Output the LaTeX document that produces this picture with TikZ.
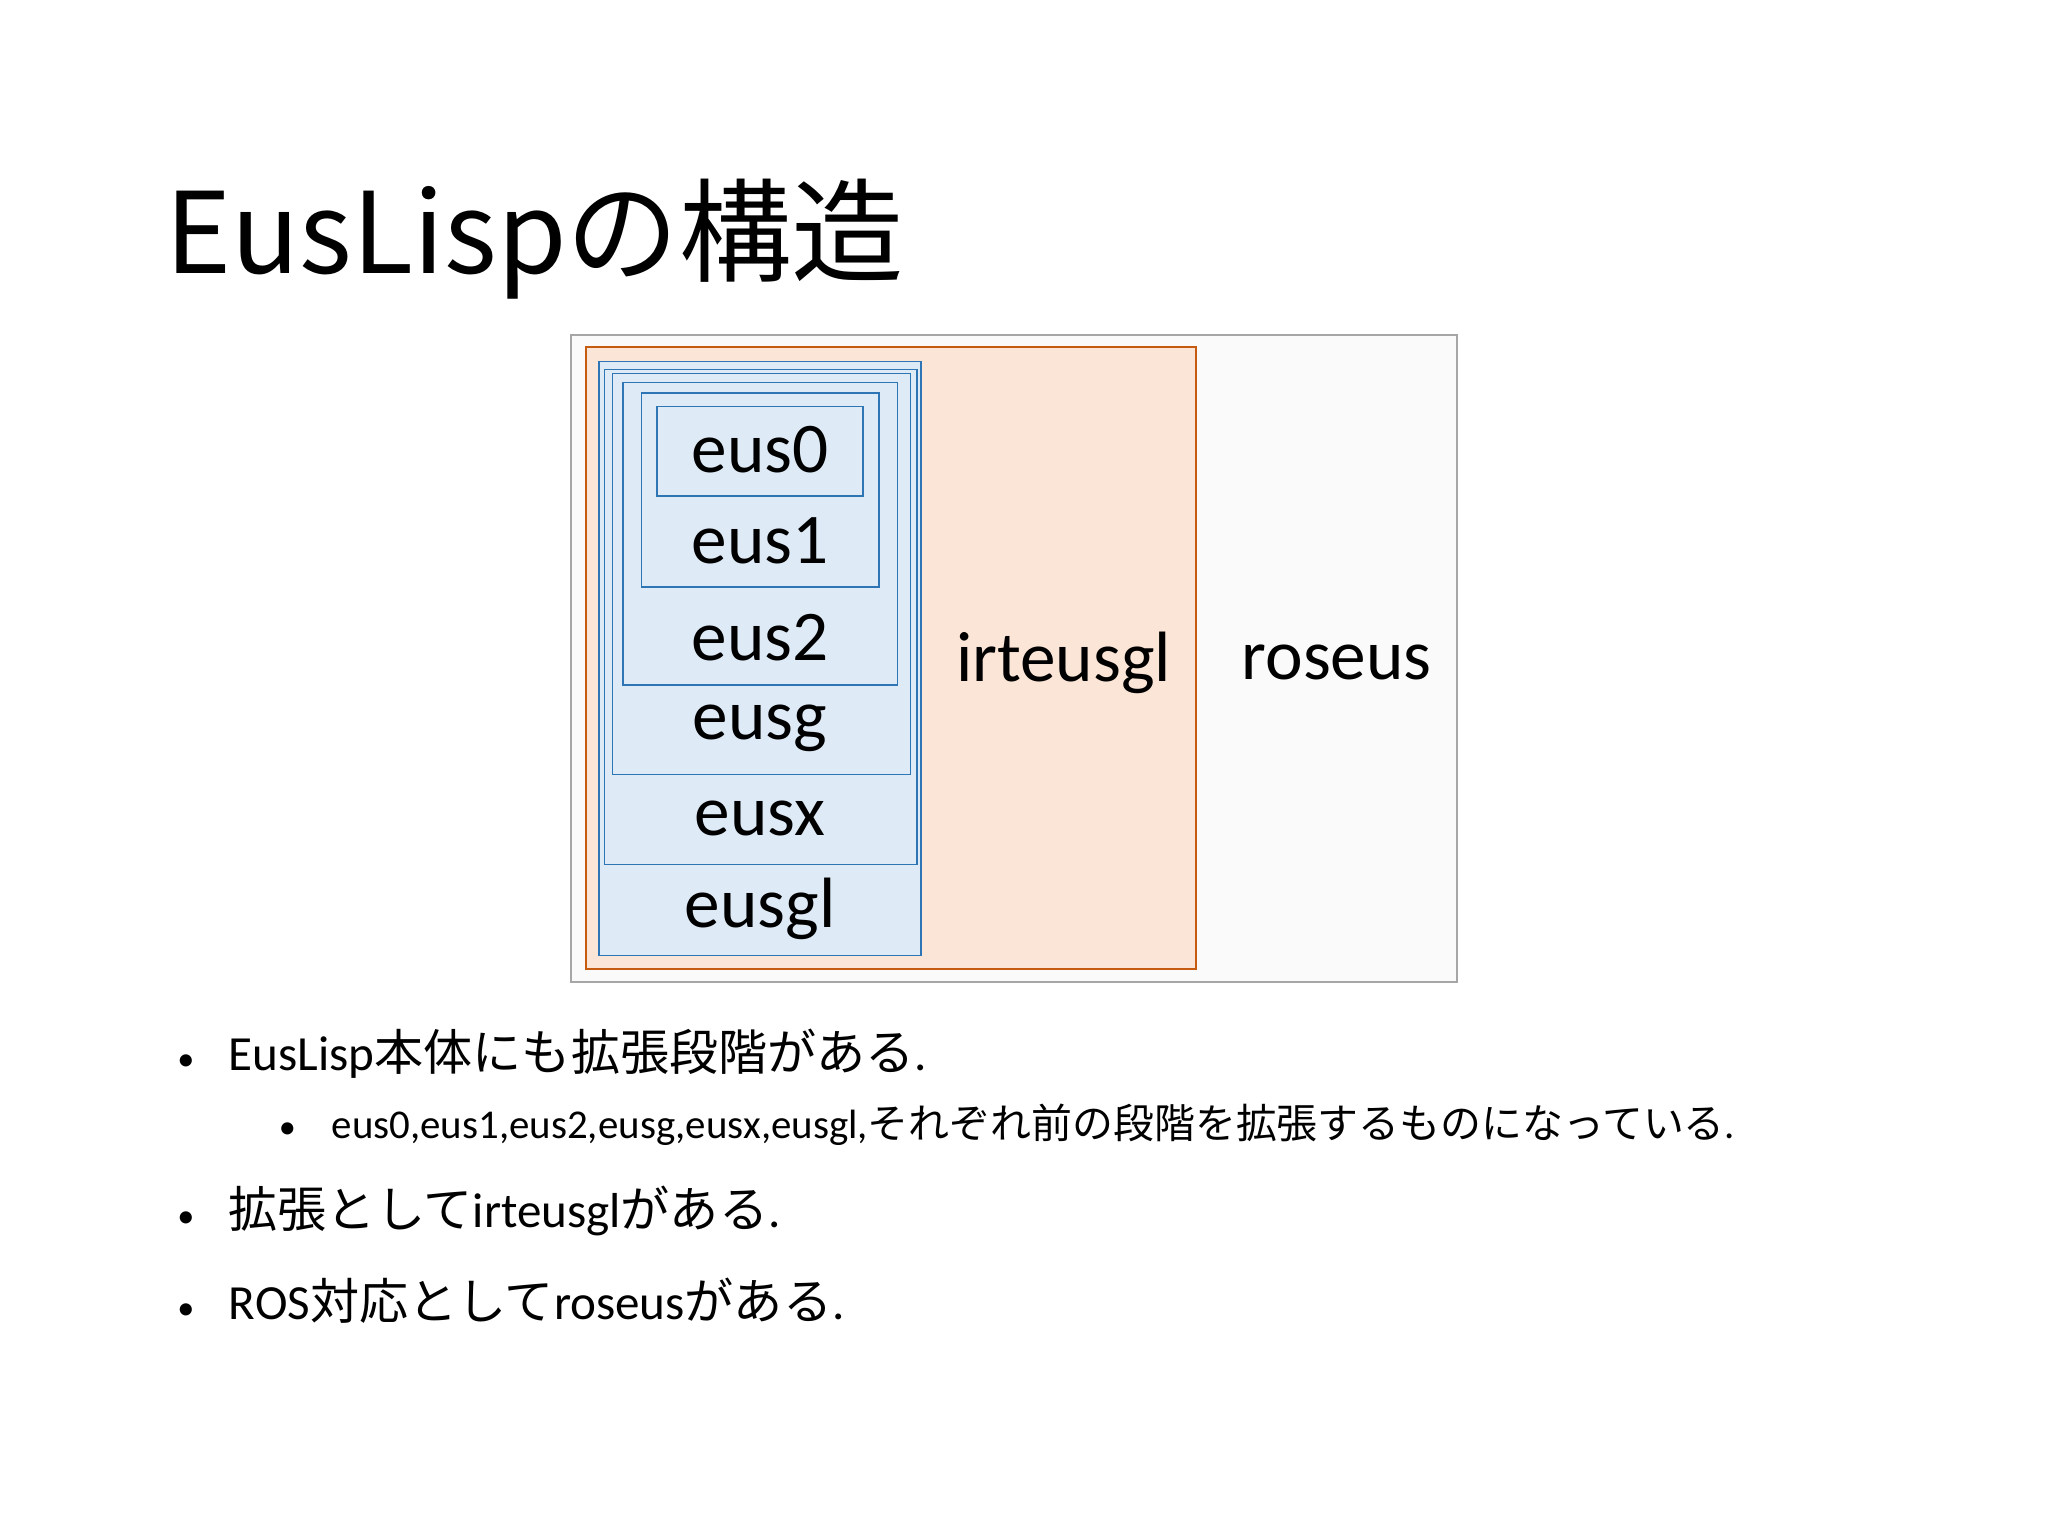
\documentclass[tikz,border=0pt]{standalone}
\usepackage{fontspec}
\setmainfont{Carlito}
\newfontfamily\cjk{Noto Sans CJK JP}
\definecolor{bluefill}{HTML}{DEEBF7}
\definecolor{bluel}{HTML}{2E75B6}
\definecolor{orfill}{HTML}{FBE5D6}
\definecolor{orl}{HTML}{C55A11}
\begin{document}
\begin{tikzpicture}[x=0.5pt,y=-0.5pt,
  lbl/.style={font=\fontsize{27}{30}\selectfont},
  bx/.style={draw=bluel,line width=0.6pt},
  dot/.style={anchor=base west,font=\fontsize{13}{16}\selectfont,inner sep=0},
  bul/.style={anchor=base west,font=\fontsize{18.6}{20}\selectfont,inner sep=0},
  sbul/.style={anchor=base west,font=\fontsize{15.5}{16}\selectfont,inner sep=0}]
\useasboundingbox[fill=white] (0,0) rectangle (1552,1164);
\node[anchor=base west,inner sep=0,font=\cjk\fontsize{42.6}{48}\selectfont] (title) at (125,207) {EusLispの構造};
\draw[draw=gray!70,fill=black!2,line width=0.7pt] (433,254) rectangle (1104,744);
\draw[draw=orl,fill=orfill,line width=0.8pt] (444,263) rectangle (906,734);
\draw[bx,fill=bluefill] (454,274) rectangle (698,724);
\draw[bx] (458,280) rectangle (695,655);
\draw[bx] (464,283) rectangle (690,587);
\draw[bx] (472,290) rectangle (680,519);
\draw[bx] (486,298) rectangle (666,445);
\draw[bx] (498,308) rectangle (654,376);
\node[lbl] (e0) at (576,341) {eus0};
\node[lbl] (e1) at (576,410) {eus1};
\node[lbl] (e2) at (576,483) {eus2};
\node[lbl] (eg) at (576,552) {eusg};
\node[lbl] (ex) at (576,620) {eusx};
\node[lbl] (egl) at (576,689) {eusgl};
\node[lbl] (irt) at (806,502) {irteusgl};
\node[lbl] (ros) at (1013,502) {roseus};
\node[dot] (b1d) at (134,811) {•};
\node[bul] (b1) at (173,811) {EusLisp{\cjk 本体にも拡張段階がある}.};
\node[dot] (b2d) at (211,863) {•};
\node[sbul] (b2) at (251,863) {eus0,eus1,eus2,eusg,eusx,eusgl,{\cjk それぞれ前の段階を拡張するものになっている}.};
\node[dot] (b3d) at (134,930) {•};
\node[bul] (b3) at (173,930) {{\cjk 拡張として}irteusgl{\cjk がある}.};
\node[dot] (b4d) at (134,1000) {•};
\node[bul] (b4) at (173,1000) {ROS{\cjk 対応として}roseus{\cjk がある}.};
\end{tikzpicture}
\end{document}
